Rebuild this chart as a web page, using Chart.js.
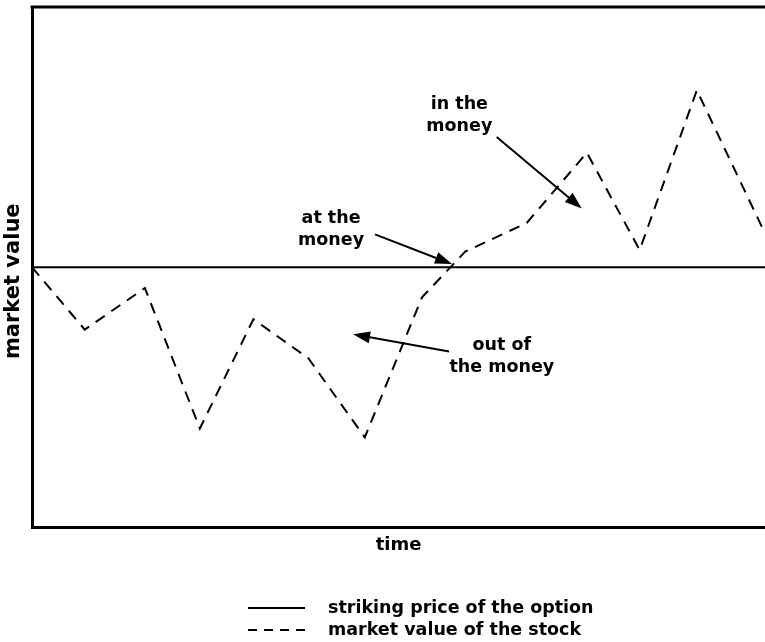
<!DOCTYPE html>
<html>
<head>
<meta charset="utf-8">
<script src="https://cdn.jsdelivr.net/npm/chart.js@4"></script>
<style>
  html, body { margin: 0; padding: 0; background: #fff; }
  #wrap { width: 765px; height: 642px; }
</style>
</head>
<body>
<div id="wrap"><canvas id="optionChart"></canvas></div>
<script>
// Time axis runs 0..100, market value axis runs 0..100 (no ticks shown)
const strikeTime = [0, 100];
const strikeValue = [50, 50];

const stockTime = [0, 7.2, 15.4, 22.9, 30.2, 37.7, 45.4, 53.2, 59.1, 67.5, 75.7, 82.9, 90.7, 100];
const stockValue = [50, 38, 46, 19, 40, 32.5, 17.3, 44.2, 53, 58.5, 72, 53.3, 84, 56.5];

// Callout labels (text lines, centre position in data units)
const noteLines = [['at the', 'money'], ['in the', 'money'], ['out of', 'the money']];
const noteX = [40.8, 58.3, 64.1];
const noteY = [59.4, 81.2, 35.0];
// Arrows for each callout: from (x0,y0) to the tip (x1,y1)
const arrowFromX = [46.8, 63.4, 56.9];
const arrowFromY = [56.3, 75.0, 33.8];
const arrowToX = [57.3, 75.0, 43.8];
const arrowToY = [50.6, 61.3, 37.1];

const yTitle = 'market value';
const yTitleCentre = 47.3; // value axis position of the title centre

const FONT = '"DejaVu Sans", sans-serif';

function toPoints(xs, ys) {
    return xs.map((x, i) => ({ x: x, y: ys[i] }));
}

// Draws the top frame line, the y title, the callouts with arrows and the legend
const annotationPlugin = {
    id: 'annotations',
    afterDraw(chart) {
        const ctx = chart.ctx;
        const area = chart.chartArea;
        const xs = chart.scales.x;
        const ys = chart.scales.y;
        ctx.save();

        // top edge of the frame
        ctx.strokeStyle = '#000';
        ctx.lineWidth = 3;
        ctx.beginPath();
        ctx.moveTo(area.left - 1.5, area.top);
        ctx.lineTo(area.right, area.top);
        ctx.stroke();

        ctx.fillStyle = '#000';
        ctx.textAlign = 'center';
        ctx.textBaseline = 'middle';

        // value axis title, rotated
        ctx.save();
        ctx.translate(14, ys.getPixelForValue(yTitleCentre));
        ctx.rotate(-Math.PI / 2);
        ctx.font = 'bold 21px ' + FONT;
        ctx.fillText(yTitle, 0, 0);
        ctx.restore();

        // callout text
        ctx.font = 'bold 17.5px ' + FONT;
        noteLines.forEach((lines, i) => {
            const cx = xs.getPixelForValue(noteX[i]);
            const cy = ys.getPixelForValue(noteY[i]);
            lines.forEach((line, j) => ctx.fillText(line, cx, cy + j * 22));
        });

        // arrows
        ctx.lineWidth = 2;
        for (let i = 0; i < arrowFromX.length; i++) {
            const x0 = xs.getPixelForValue(arrowFromX[i]);
            const y0 = ys.getPixelForValue(arrowFromY[i]);
            const x1 = xs.getPixelForValue(arrowToX[i]);
            const y1 = ys.getPixelForValue(arrowToY[i]);
            const ang = Math.atan2(y1 - y0, x1 - x0);
            const headLen = 17, headW = 6;
            const bx = x1 - headLen * Math.cos(ang);
            const by = y1 - headLen * Math.sin(ang);
            ctx.beginPath();
            ctx.moveTo(x0, y0);
            ctx.lineTo(bx, by);
            ctx.stroke();
            ctx.beginPath();
            ctx.moveTo(x1, y1);
            ctx.lineTo(bx + headW * Math.sin(ang), by - headW * Math.cos(ang));
            ctx.lineTo(bx - headW * Math.sin(ang), by + headW * Math.cos(ang));
            ctx.closePath();
            ctx.fill();
        }

        // legend, one row per dataset
        ctx.textAlign = 'left';
        chart.data.datasets.forEach((ds, i) => {
            const y = 608 + i * 22;
            ctx.lineWidth = 2;
            ctx.setLineDash(ds.borderDash ? [9, 7] : []);
            ctx.beginPath();
            ctx.moveTo(248, y);
            ctx.lineTo(305, y);
            ctx.stroke();
            ctx.setLineDash([]);
            ctx.fillText(ds.label, 328, y);
        });

        ctx.restore();
    }
};

const ctx = document.getElementById('optionChart').getContext('2d');

const chart = new Chart(ctx, {
    type: 'line',
    data: {
        datasets: [
            {
                label: 'striking price of the option',
                data: toPoints(strikeTime, strikeValue),
                borderColor: '#000',
                borderWidth: 2,
                pointRadius: 0
            },
            {
                label: 'market value of the stock',
                data: toPoints(stockTime, stockValue),
                borderColor: '#000',
                borderWidth: 2,
                borderDash: [11, 8],
                pointRadius: 0,
                tension: 0
            }
        ]
    },
    options: {
        responsive: true,
        maintainAspectRatio: false,
        animation: false,
        layout: { padding: { top: 7, right: 0, bottom: 82, left: 0 } },
        plugins: {
            legend: { display: false },
            tooltip: { enabled: false }
        },
        scales: {
            x: {
                type: 'linear',
                min: 0,
                max: 100,
                grid: { display: false, drawTicks: false },
                border: { display: true, color: '#000', width: 3 },
                ticks: { display: false },
                title: {
                    display: true,
                    text: 'time',
                    color: '#000',
                    font: { family: FONT, size: 18, weight: 'bold' },
                    padding: { top: 7, bottom: 4 }
                }
            },
            y: {
                min: 0,
                max: 100,
                grid: { display: false, drawTicks: false },
                border: { display: true, color: '#000', width: 3 },
                ticks: { display: false },
                // leave room on the left for the rotated title drawn by the plugin
                afterFit(scale) { scale.width = 32; }
            }
        }
    },
    plugins: [annotationPlugin]
});
</script>
</body>
</html>
